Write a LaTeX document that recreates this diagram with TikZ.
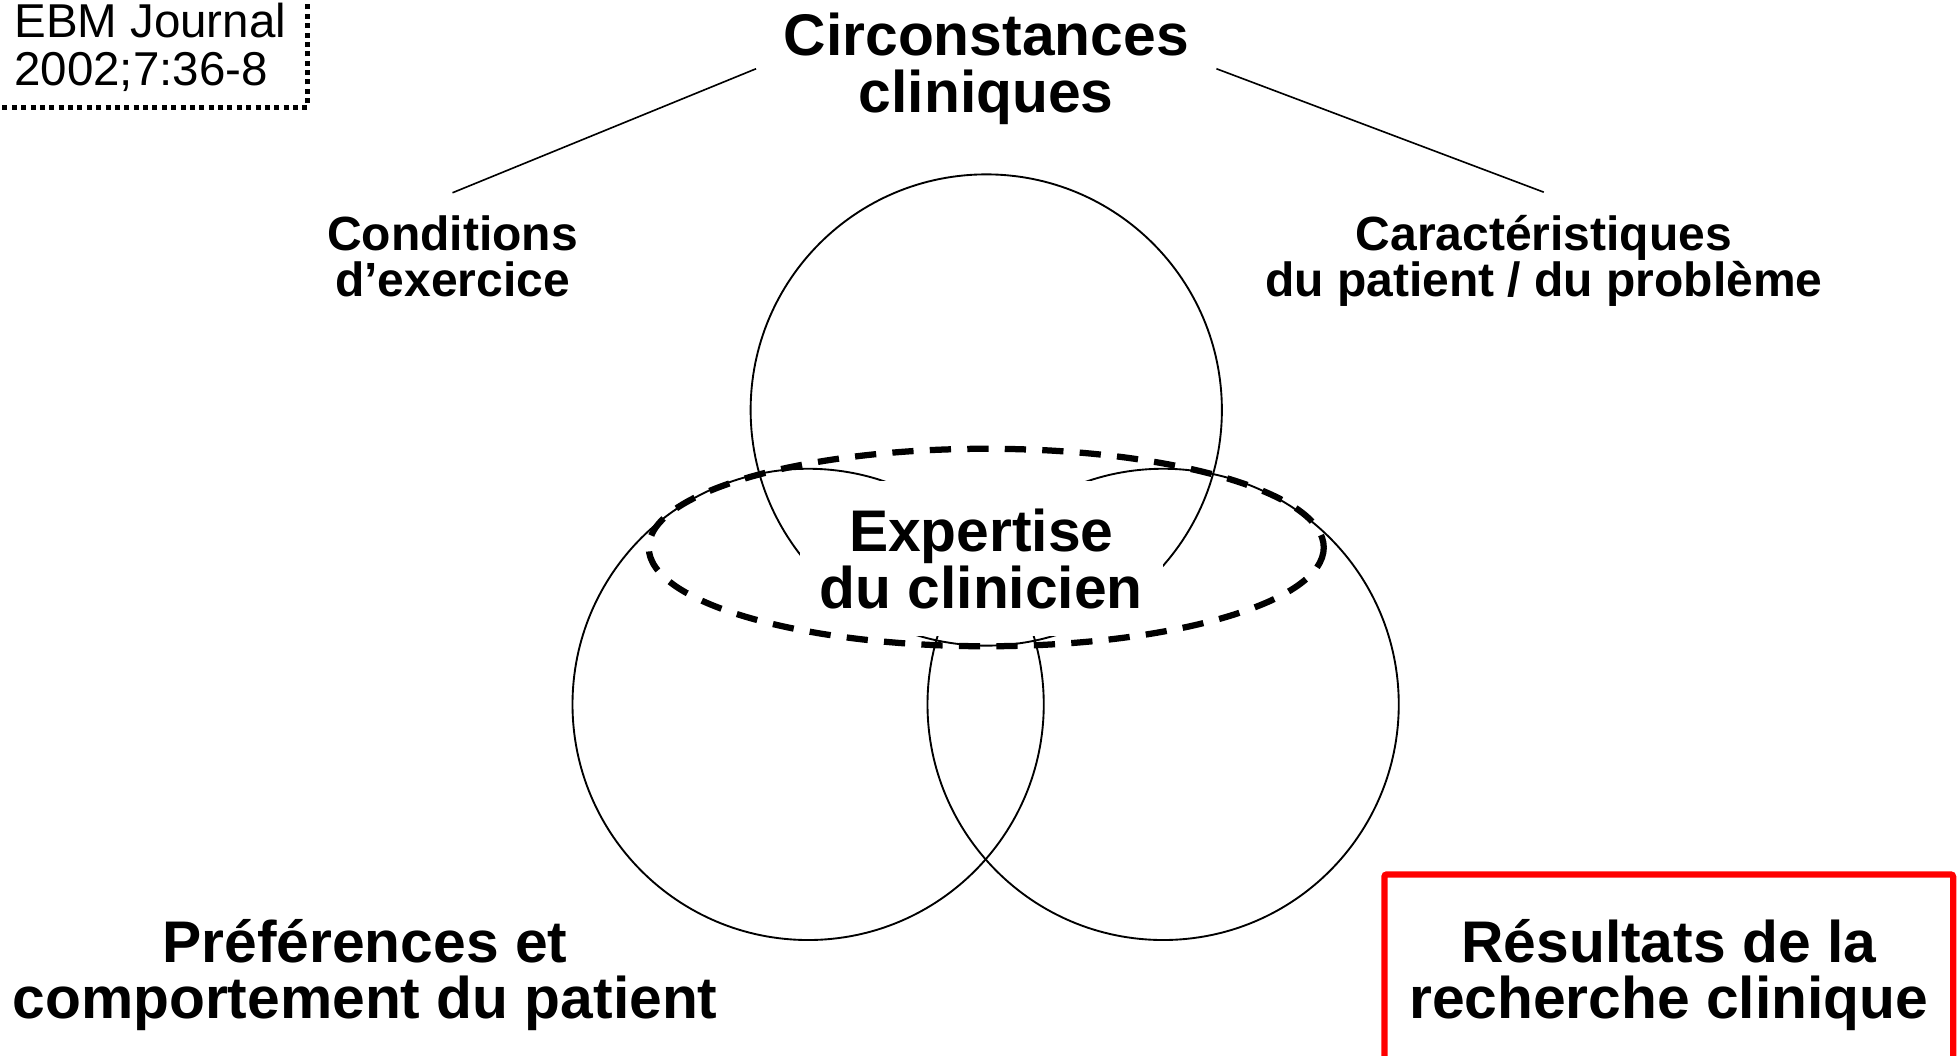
\documentclass[tikz,border=0pt]{standalone}
\usepackage{fontspec}
\setmainfont{Liberation Sans}
\tikzset{
  bigtext/.style={font=\bfseries\fontsize{47}{45.5}\selectfont, align=center},
  smalltext/.style={font=\bfseries\fontsize{38.4}{37}\selectfont, align=center},
  ring/.style={draw, circle, minimum size=377pt, line width=1.5pt},
  oval/.style={line width=5pt, dash pattern=on 17pt off 13pt},
  refbox/.style={draw, line width=4pt, dash pattern=on 4pt off 3.5pt, align=left,
    font=\fontsize{38}{38}\selectfont, inner xsep=17pt, inner ysep=13pt},
  redbox/.style={draw=red, line width=5pt, rounded corners=2pt,
    minimum width=455pt, minimum height=161pt}
}
\begin{document}
\begin{tikzpicture}[x=1pt, y=-1pt]
      \useasboundingbox (0,0) rectangle (1568,844);
      \node[refbox, anchor=south east] (ref) at (248,88) {EBM Journal\\2002;7:36-8};
      \node[ring] (circumst) at (789,328) {};
      \node[ring] (prefs) at (646.5,563.5) {};
      \node[ring] (research) at (930.5,563.5) {};
      \node[bigtext, fill=white, inner xsep=16pt, inner ysep=22pt] (expert) at (785,447) {Expertise\\du clinicien};
      \draw[oval] (789,438) ellipse [x radius=270, y radius=79];
      \node[bigtext, inner xsep=22pt] (circ) at (789,55) {Circonstances\\cliniques};
      \node[smalltext, inner ysep=18pt] (cond) at (362,205) {Conditions\\d’exercice};
      \node[smalltext, inner ysep=18pt] (carac) at (1235,208.5) {Caractéristiques\\du patient / du problème};
      \draw[line width=1.3pt] (circ.west) -- (cond.north);
      \draw[line width=1.3pt] (circ.east) -- (carac.north);
      \node[bigtext] (pref) at (292,780) {Préférences et\\comportement du patient};
      \node[bigtext, redbox] (result) at (1335,780) {Résultats de la\\recherche clinique};
\end{tikzpicture}
\end{document}
